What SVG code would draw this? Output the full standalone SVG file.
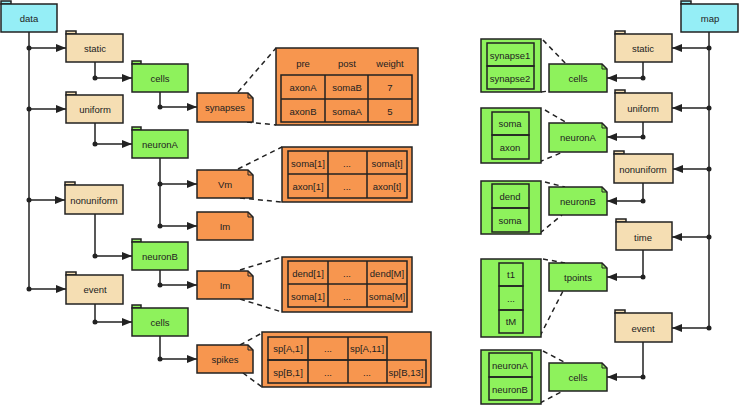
<svg xmlns="http://www.w3.org/2000/svg" width="739" height="405" viewBox="0 0 739 405">
<style>
text{font-family:"Liberation Sans",Arial,sans-serif;font-size:9.5px;fill:#222;text-anchor:middle;dominant-baseline:central}
.cy{fill:#95EEF6;stroke:#222;stroke-width:1.5}
.tan{fill:#F5DEB3;stroke:#222;stroke-width:1.5}
.gr{fill:#8EF25C;stroke:#222;stroke-width:1.5}
.or{fill:#F7964F;stroke:#222;stroke-width:1.5}
.fold{fill:none;stroke:#222;stroke-width:1}
.ln{fill:none;stroke:#222;stroke-width:1.5}
.ar{fill:none;stroke:#222;stroke-width:1.5;marker-end:url(#ah)}
.ds{fill:none;stroke:#222;stroke-width:1.5;stroke-dasharray:5,4}
.tb{fill:none;stroke:#222;stroke-width:1.5}
</style>
<defs>
<marker id="ah" markerUnits="userSpaceOnUse" markerWidth="12" markerHeight="10" refX="10" refY="4" orient="auto">
<path d="M0,0 L10,4 L0,8 Z" fill="#222"/>
</marker>
</defs>

<g id="connectors">
<path class="ln" d="M29,32 V289"/>
<path class="ar" d="M29,48 H66"/>
<path class="ar" d="M29,109 H66"/>
<path class="ar" d="M29,200 H65"/>
<path class="ar" d="M29,289 H66"/>
<path class="ar" d="M95,62 V78 H132"/>
<path class="ar" d="M160,92 V107 H197"/>
<path class="ar" d="M95,123 V144 H132"/>
<path class="ln" d="M160,158 V226"/>
<path class="ar" d="M160,184 H197"/>
<path class="ar" d="M160,226 H197"/>
<path class="ar" d="M95,214 V256 H132"/>
<path class="ar" d="M160,270 V285 H197"/>
<path class="ar" d="M95,304 V322 H132"/>
<path class="ar" d="M160,336 V359 H197"/>
<g fill="#222">
<circle cx="29" cy="48" r="2.5"/><circle cx="29" cy="109" r="2.5"/><circle cx="29" cy="200" r="2.5"/><circle cx="29" cy="289" r="2.5"/>
<circle cx="95" cy="78" r="2.5"/><circle cx="160" cy="107" r="2.5"/><circle cx="95" cy="144" r="2.5"/>
<circle cx="160" cy="184" r="2.5"/><circle cx="160" cy="226" r="2.5"/><circle cx="95" cy="256" r="2.5"/>
<circle cx="160" cy="285" r="2.5"/><circle cx="95" cy="322" r="2.5"/><circle cx="160" cy="359" r="2.5"/>
</g>
<path class="ln" d="M709,32 V328"/>
<path class="ar" d="M709,48 H672"/>
<path class="ar" d="M709,108 H672"/>
<path class="ar" d="M709,169 H673"/>
<path class="ar" d="M709,237 H672"/>
<path class="ar" d="M709,328 H672"/>
<path class="ar" d="M643,62 V78 H607"/>
<path class="ar" d="M643,122 V137 H607"/>
<path class="ar" d="M643,183 V201 H607"/>
<path class="ar" d="M643,250 V277 H607"/>
<path class="ar" d="M643,342 V377 H607"/>
<g fill="#222">
<circle cx="709" cy="48" r="2.5"/><circle cx="709" cy="108" r="2.5"/><circle cx="709" cy="169" r="2.5"/><circle cx="709" cy="237" r="2.5"/><circle cx="709" cy="328" r="2.5"/>
<circle cx="643" cy="78" r="2.5"/><circle cx="643" cy="137" r="2.5"/><circle cx="643" cy="201" r="2.5"/><circle cx="643" cy="277" r="2.5"/><circle cx="643" cy="377" r="2.5"/>
</g>
<path class="ds" d="M238,92 L276,48 M247,122 L276,125"/>
<path class="ds" d="M238,169 L282,147 M240,198 L282,202"/>
<path class="ds" d="M240,270 L282,257 M240,299 L282,312"/>
<path class="ds" d="M240,345 L262,333 M243,373 L262,387"/>
<path class="ds" d="M543,40 L566,64 M541,92 L549,91"/>
<path class="ds" d="M545,110 L567,123 M539,162 L563,152"/>
<path class="ds" d="M545,182 L565,187 M540,233 L562,215"/>
<path class="ds" d="M543,259 L565,263 M540,336 L563,291"/>
<path class="ds" d="M543,351 L566,363 M540,403 L563,391"/>
</g>

<g id="data"><rect class="cy" x="1" y="1" width="10" height="3"/><rect class="cy" x="1" y="4" width="56" height="28"/><text x="29" y="18">data</text></g>
<g id="static-l"><rect class="tan" x="66" y="31" width="10" height="3"/><rect class="tan" x="66" y="34" width="57" height="28"/><text x="95" y="48">static</text></g>
<g id="cells-l1"><rect class="gr" x="132" y="61" width="9" height="3"/><rect class="gr" x="132" y="64" width="56" height="28"/><text x="160" y="78">cells</text></g>
<g id="synapses"><path class="or" d="M197,93 H248 L253,98 V122 H197 Z"/><path class="fold" d="M248,93 V98 H253"/><text x="225" y="107">synapses</text></g>
<g id="uniform-l"><rect class="tan" x="66" y="92" width="10" height="3"/><rect class="tan" x="66" y="95" width="57" height="28"/><text x="95" y="109">uniform</text></g>
<g id="neuronA-l"><rect class="gr" x="132" y="127" width="9" height="3"/><rect class="gr" x="132" y="130" width="56" height="28"/><text x="160" y="144">neuronA</text></g>
<g id="Vm"><path class="or" d="M197,170 H248 L253,175 V198 H197 Z"/><path class="fold" d="M248,170 V175 H253"/><text x="225" y="184">Vm</text></g>
<g id="Im-1"><path class="or" d="M197,212 H248 L253,217 V240 H197 Z"/><path class="fold" d="M248,212 V217 H253"/><text x="225" y="226">Im</text></g>
<g id="nonuniform-l"><rect class="tan" x="65" y="182" width="10" height="3"/><rect class="tan" x="65" y="185" width="58" height="29"/><text x="94" y="200">nonuniform</text></g>
<g id="neuronB-l"><rect class="gr" x="132" y="239" width="9" height="3"/><rect class="gr" x="132" y="242" width="56" height="28"/><text x="160" y="256">neuronB</text></g>
<g id="Im-2"><path class="or" d="M197,271 H248 L253,276 V299 H197 Z"/><path class="fold" d="M248,271 V276 H253"/><text x="225" y="285">Im</text></g>
<g id="event-l"><rect class="tan" x="66" y="272" width="10" height="3"/><rect class="tan" x="66" y="275" width="57" height="29"/><text x="95" y="289">event</text></g>
<g id="cells-l2"><rect class="gr" x="132" y="305" width="9" height="3"/><rect class="gr" x="132" y="308" width="56" height="28"/><text x="160" y="322">cells</text></g>
<g id="spikes"><path class="or" d="M197,345 H248 L253,350 V373 H197 Z"/><path class="fold" d="M248,345 V350 H253"/><text x="225" y="359">spikes</text></g>

<g id="table-synapses">
<rect class="or" x="276" y="48" width="142" height="77"/>
<rect class="tb" x="281" y="75" width="131" height="47"/>
<path class="tb" d="M281,99 H412 M325,75 V122 M368,75 V122"/>
<text x="303" y="63">pre</text><text x="347" y="63">post</text><text x="390" y="63">weight</text>
<text x="303" y="87">axonA</text><text x="347" y="87">somaB</text><text x="390" y="87">7</text>
<text x="303" y="111">axonB</text><text x="347" y="111">somaA</text><text x="390" y="111">5</text>
</g>
<g id="table-Vm">
<rect class="or" x="282" y="147" width="130" height="55"/>
<rect class="tb" x="288" y="151" width="119" height="47"/>
<path class="tb" d="M288,174 H407 M328,151 V198 M367,151 V198"/>
<text x="308" y="163">soma[1]</text><text x="347" y="163">...</text><text x="387" y="163">soma[t]</text>
<text x="308" y="186">axon[1]</text><text x="347" y="186">...</text><text x="387" y="186">axon[t]</text>
</g>
<g id="table-Im">
<rect class="or" x="282" y="257" width="130" height="55"/>
<rect class="tb" x="288" y="261" width="119" height="46"/>
<path class="tb" d="M288,284 H407 M328,261 V307 M367,261 V307"/>
<text x="308" y="273">dend[1]</text><text x="347" y="273">...</text><text x="387" y="273">dend[M]</text>
<text x="308" y="296">soma[1]</text><text x="347" y="296">...</text><text x="387" y="296">soma[M]</text>
</g>
<g id="table-spikes">
<rect class="or" x="262" y="332" width="169" height="55"/>
<rect class="tb" x="268" y="337" width="119" height="23"/>
<rect class="tb" x="268" y="360" width="158" height="23"/>
<path class="tb" d="M308,337 V383 M348,337 V383 M387,360 V383"/>
<text x="288" y="348">sp[A,1]</text><text x="328" y="348">...</text><text x="367" y="348">sp[A,11]</text>
<text x="288" y="372">sp[B,1]</text><text x="328" y="372">...</text><text x="367" y="372">...</text><text x="406" y="372">sp[B,13]</text>
</g>

<g id="map"><rect class="cy" x="681" y="1" width="10" height="3"/><rect class="cy" x="681" y="4" width="57" height="28"/><text x="710" y="18">map</text></g>
<g id="static-r"><rect class="tan" x="615" y="31" width="10" height="3"/><rect class="tan" x="615" y="34" width="57" height="28"/><text x="643" y="48">static</text></g>
<g id="uniform-r"><rect class="tan" x="615" y="90" width="10" height="3"/><rect class="tan" x="615" y="93" width="57" height="29"/><text x="643" y="108">uniform</text></g>
<g id="nonuniform-r"><rect class="tan" x="614" y="151" width="10" height="3"/><rect class="tan" x="614" y="154" width="59" height="29"/><text x="643" y="169">nonuniform</text></g>
<g id="time"><rect class="tan" x="616" y="219" width="10" height="3"/><rect class="tan" x="616" y="222" width="56" height="28"/><text x="643" y="237">time</text></g>
<g id="event-r"><rect class="tan" x="615" y="310" width="10" height="3"/><rect class="tan" x="615" y="313" width="57" height="29"/><text x="643" y="328">event</text></g>

<g id="cells-r1"><path class="gr" d="M549,64 H602 L607,69 V92 H549 Z"/><path class="fold" d="M602,64 V69 H607"/><text x="578" y="78">cells</text></g>
<g id="neuronA-r"><path class="gr" d="M549,123 H602 L607,128 V152 H549 Z"/><path class="fold" d="M602,123 V128 H607"/><text x="578" y="137">neuronA</text></g>
<g id="neuronB-r"><path class="gr" d="M549,187 H602 L607,192 V215 H549 Z"/><path class="fold" d="M602,187 V192 H607"/><text x="578" y="201">neuronB</text></g>
<g id="tpoints"><path class="gr" d="M549,263 H602 L607,268 V291 H549 Z"/><path class="fold" d="M602,263 V268 H607"/><text x="578" y="277">tpoints</text></g>
<g id="cells-r2"><path class="gr" d="M549,363 H602 L607,368 V391 H549 Z"/><path class="fold" d="M602,363 V368 H607"/><text x="578" y="377">cells</text></g>

<g id="box-synapses">
<rect class="gr" x="481" y="39" width="60" height="53"/>
<rect class="tb" x="487" y="43" width="47" height="23"/><rect class="tb" x="487" y="66" width="47" height="23"/>
<text x="510" y="55">synapse1</text><text x="510" y="78">synapse2</text>
</g>
<g id="box-somaaxon">
<rect class="gr" x="481" y="108" width="60" height="55"/>
<rect class="tb" x="492" y="112" width="37" height="23"/><rect class="tb" x="492" y="135" width="37" height="24"/>
<text x="510" y="123">soma</text><text x="510" y="147">axon</text>
</g>
<g id="box-dendsoma">
<rect class="gr" x="481" y="181" width="60" height="53"/>
<rect class="tb" x="492" y="184" width="37" height="24"/><rect class="tb" x="492" y="208" width="37" height="24"/>
<text x="510" y="196">dend</text><text x="510" y="220">soma</text>
</g>
<g id="box-t">
<rect class="gr" x="481" y="259" width="60" height="78"/>
<rect class="tb" x="499" y="263" width="24" height="23"/><rect class="tb" x="499" y="286" width="24" height="24"/><rect class="tb" x="499" y="310" width="24" height="23"/>
<text x="511" y="274">t1</text><text x="511" y="298">...</text><text x="511" y="321">tM</text>
</g>
<g id="box-neurons">
<rect class="gr" x="481" y="350" width="60" height="54"/>
<rect class="tb" x="489" y="353" width="43" height="24"/><rect class="tb" x="489" y="377" width="43" height="23"/>
<text x="510" y="365">neuronA</text><text x="510" y="389">neuronB</text>
</g>
</svg>
